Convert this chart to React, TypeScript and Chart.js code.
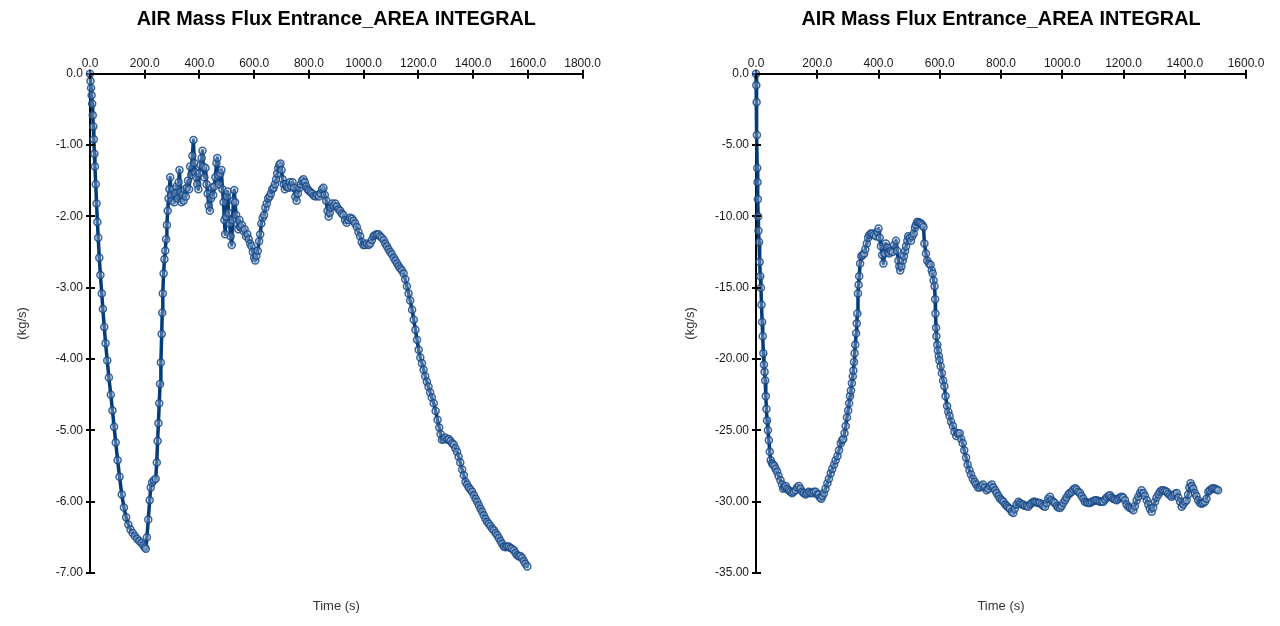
import React, { useEffect, useRef } from "react";
import { Chart, registerables } from "chart.js";

Chart.register(...registerables);

const CHART_TITLE = "AIR Mass Flux Entrance_AREA INTEGRAL";
const X_TITLE = "Time (s)";
const Y_TITLE = "(kg/s)";

// Run 1: sample times (s) and mass flux (kg/s)
const run1Time = [
  0, 2, 4, 6, 8, 10, 12, 14, 16, 18, 21, 24, 27, 30, 34, 38, 43, 47, 52, 57, 63, 69, 76, 82, 88, 94, 101, 108, 116,
  124, 132, 140, 148, 156, 164, 172, 180, 188, 195, 200, 204, 208, 213, 218, 222, 227, 233, 240, 244, 247, 250, 253,
  256, 259, 262, 264, 266, 269, 272, 275, 278, 281, 284, 287, 290, 293, 296, 300, 304, 308, 312, 316, 320, 324, 327,
  330, 334, 338, 342, 346, 350, 354, 358, 362, 366, 370, 374, 378, 381, 384, 388, 392, 396, 400, 404, 408, 411, 414,
  418, 422, 426, 430, 434, 438, 442, 446, 450, 454, 458, 462, 465, 468, 472, 476, 480, 484, 488, 491, 494, 497, 500,
  503, 506, 510, 514, 518, 521, 524, 527, 530, 534, 538, 542, 546, 550, 555, 560, 565, 570, 575, 580, 585, 590, 595,
  600, 604, 608, 613, 618, 622, 626, 631, 636, 641, 646, 651, 656, 661, 666, 671, 676, 680, 684, 688, 692, 696, 700,
  704, 708, 712, 716, 720, 725, 730, 735, 740, 745, 750, 755, 760, 765, 770, 775, 780, 785, 790, 795, 800, 806, 812,
  818, 824, 830, 836, 842, 848, 853, 858, 863, 868, 872, 876, 880, 885, 890, 896, 902, 908, 914, 920, 926, 932, 938,
  944, 950, 957, 963, 969, 975, 981, 987, 993, 999, 1005, 1011, 1018, 1024, 1030, 1036, 1042, 1048, 1054, 1060, 1066,
  1073, 1079, 1085, 1091, 1097, 1103, 1110, 1116, 1122, 1128, 1134, 1140, 1146, 1152, 1158, 1164, 1170, 1177, 1183,
  1189, 1195, 1201, 1207, 1213, 1219, 1225, 1231, 1237, 1243, 1249, 1256, 1263, 1270, 1276, 1281, 1286, 1292, 1298,
  1305, 1311, 1317, 1323, 1329, 1335, 1341, 1347, 1353, 1360, 1366, 1372, 1378, 1384, 1390, 1396, 1403, 1409, 1415,
  1421, 1427, 1433, 1439, 1445, 1451, 1457, 1463, 1470, 1476, 1482, 1488, 1494, 1500, 1506, 1512, 1518, 1524, 1530,
  1536, 1542, 1549, 1555, 1561, 1567, 1573, 1579, 1585, 1591, 1598,
];
const run1Flux = [
  0, -0.1, -0.2, -0.3, -0.42, -0.58, -0.74, -0.92, -1.12, -1.3, -1.55, -1.82, -2.08, -2.3, -2.58, -2.82, -3.08, -3.3,
  -3.55, -3.78, -4.02, -4.26, -4.5, -4.72, -4.95, -5.17, -5.42, -5.65, -5.9, -6.08, -6.22, -6.32, -6.39, -6.44, -6.48,
  -6.52, -6.55, -6.58, -6.61, -6.64, -6.66, -6.5, -6.25, -5.98, -5.8, -5.73, -5.7, -5.68, -5.45, -5.15, -4.9, -4.62,
  -4.35, -4.05, -3.65, -3.35, -3.08, -2.8, -2.6, -2.48, -2.32, -2.12, -1.92, -1.75, -1.62, -1.45, -1.7, -1.78, -1.62,
  -1.8, -1.68, -1.58, -1.75, -1.52, -1.35, -1.65, -1.8, -1.7, -1.78, -1.62, -1.72, -1.6, -1.5, -1.62, -1.3, -1.42,
  -1.15, -0.93, -1.25, -1.38, -1.45, -1.55, -1.62, -1.4, -1.28, -1.18, -1.08, -1.3, -1.45, -1.32, -1.55, -1.68, -1.85,
  -1.92, -1.75, -1.6, -1.7, -1.58, -1.45, -1.25, -1.18, -1.42, -1.55, -1.4, -1.35, -1.62, -1.8, -2.05, -2.25, -2.0,
  -1.72, -1.65, -1.95, -2.1, -2.28, -2.4, -2.05, -1.78, -1.63, -1.8, -1.98, -2.1, -2.18, -2.05, -2.15, -2.12, -2.2,
  -2.18, -2.28, -2.25, -2.32, -2.38, -2.42, -2.5, -2.58, -2.62, -2.55, -2.48, -2.35, -2.25, -2.1, -2.02, -1.98, -1.88,
  -1.82, -1.75, -1.72, -1.68, -1.62, -1.6, -1.55, -1.48, -1.4, -1.32, -1.28, -1.26, -1.35, -1.48, -1.55, -1.62, -1.55,
  -1.58, -1.6, -1.52, -1.58, -1.52, -1.6, -1.72, -1.78, -1.68, -1.6, -1.55, -1.5, -1.48, -1.52, -1.58, -1.62, -1.64,
  -1.66, -1.68, -1.71, -1.72, -1.7, -1.72, -1.68, -1.62, -1.6, -1.7, -1.78, -1.92, -2.0, -1.95, -1.88, -1.82, -1.85,
  -1.82, -1.86, -1.9, -1.92, -1.96, -1.98, -2.05, -2.09, -2.05, -2.02, -2.03, -2.06, -2.1, -2.15, -2.22, -2.28, -2.36,
  -2.4, -2.4, -2.38, -2.4, -2.38, -2.33, -2.28, -2.26, -2.25, -2.25, -2.28, -2.3, -2.33, -2.38, -2.42, -2.46, -2.5,
  -2.53, -2.58, -2.62, -2.66, -2.7, -2.73, -2.76, -2.8, -2.88, -2.98, -3.08, -3.18, -3.31, -3.45, -3.59, -3.73, -3.87,
  -3.98, -4.06, -4.15, -4.24, -4.32, -4.39, -4.47, -4.54, -4.62, -4.73, -4.85, -4.96, -5.05, -5.13, -5.12, -5.1, -5.13,
  -5.12, -5.15, -5.18, -5.2, -5.25, -5.3, -5.37, -5.45, -5.55, -5.63, -5.72, -5.76, -5.8, -5.83, -5.86, -5.91, -5.96,
  -6.0, -6.05, -6.1, -6.14, -6.19, -6.24, -6.28, -6.31, -6.34, -6.38, -6.4, -6.44, -6.47, -6.51, -6.55, -6.59, -6.63,
  -6.64, -6.63, -6.63, -6.65, -6.66, -6.68, -6.72, -6.75, -6.77, -6.76, -6.79, -6.83, -6.87, -6.91,
];

// Run 2: sample times (s) and mass flux (kg/s)
const run2Time = [
  0, 1, 2, 3, 4, 5, 6, 7, 8, 10, 12, 14, 16, 18, 20, 22, 24, 26, 28, 30, 32, 34, 36, 39, 42, 45, 48, 52, 56, 60, 64,
  69, 74, 80, 85, 89, 93, 97, 102, 107, 112, 118, 123, 129, 134, 140, 145, 151, 156, 162, 167, 173, 178, 184, 189, 195,
  200, 205, 209, 213, 217, 222, 227, 233, 238, 244, 249, 255, 260, 266, 271, 277, 281, 285, 289, 293, 297, 301, 304,
  307, 310, 313, 316, 318, 320, 322, 324, 327, 329, 331, 333, 335, 337, 340, 344, 348, 353, 357, 362, 366, 370, 375,
  380, 385, 391, 396, 400, 404, 408, 412, 416, 420, 424, 428, 432, 435, 440, 446, 451, 457, 461, 465, 468, 471, 475,
  479, 483, 487, 490, 494, 497, 501, 506, 510, 515, 519, 522, 526, 530, 534, 539, 543, 547, 550, 555, 559, 565, 570,
  574, 577, 580, 583, 585, 586, 588, 589, 592, 594, 597, 599, 603, 607, 611, 615, 619, 624, 628, 632, 637, 643, 648,
  654, 660, 665, 670, 675, 680, 686, 691, 697, 702, 708, 714, 719, 725, 731, 736, 741, 747, 753, 758, 764, 770, 775,
  781, 786, 792, 797, 803, 808, 814, 819, 824, 829, 835, 840, 845, 851, 857, 862, 867, 873, 878, 884, 889, 895, 900,
  906, 911, 916, 922, 927, 933, 938, 944, 949, 954, 960, 965, 971, 976, 982, 987, 993, 998, 1003, 1009, 1014, 1020,
  1025, 1031, 1036, 1042, 1047, 1052, 1058, 1063, 1069, 1074, 1080, 1085, 1091, 1096, 1102, 1107, 1112, 1118, 1123,
  1129, 1134, 1140, 1145, 1151, 1156, 1161, 1167, 1172, 1178, 1183, 1189, 1194, 1199, 1205, 1210, 1216, 1221, 1227,
  1232, 1237, 1243, 1248, 1254, 1259, 1265, 1270, 1276, 1281, 1286, 1292, 1297, 1303, 1308, 1314, 1319, 1325, 1330,
  1336, 1341, 1346, 1352, 1357, 1363, 1368, 1374, 1379, 1385, 1390, 1395, 1401, 1406, 1411, 1415, 1419, 1423, 1428,
  1433, 1438, 1444, 1450, 1455, 1460, 1466, 1471, 1477, 1482, 1488, 1493, 1499, 1504, 1509,
];
const run2Flux = [
  0, -0.8, -2.0, -4.3, -6.6, -7.6, -8.8, -10.0, -11.0, -11.8, -13.2, -14.2, -15.0, -16.2, -17.4, -18.4, -19.6, -20.4,
  -20.9, -21.5, -22.6, -23.5, -24.3, -25.0, -25.7, -26.5, -27.1, -27.3, -27.4, -27.5, -27.7, -27.9, -28.2, -28.5,
  -28.8, -29.1, -29.0, -28.9, -29.1, -29.2, -29.3, -29.4, -29.3, -29.2, -29.0, -28.9, -29.1, -29.3, -29.4, -29.5,
  -29.4, -29.3, -29.4, -29.4, -29.3, -29.3, -29.5, -29.5, -29.7, -29.8, -29.6, -29.4, -29.1, -28.7, -28.4, -28.0,
  -27.7, -27.4, -27.1, -26.8, -26.4, -25.9, -25.7, -25.6, -25.2, -24.7, -24.1, -23.6, -23.1, -22.6, -22.2, -21.7,
  -21.2, -20.8, -20.2, -19.6, -19.0, -18.2, -17.5, -16.8, -15.4, -14.8, -14.2, -13.3, -12.8, -12.7, -12.6, -12.3,
  -11.9, -11.5, -11.3, -11.2, -11.2, -11.3, -11.4, -11.1, -10.85, -11.5, -12.1, -12.7, -13.3, -12.6, -11.9, -12.2,
  -12.5, -12.6, -12.4, -12.5, -12.0, -11.7, -12.4, -13.1, -13.5, -13.8, -13.5, -13.1, -12.8, -12.4, -12.1, -11.7,
  -11.4, -11.5, -11.7, -11.4, -11.2, -10.8, -10.6, -10.4, -10.4, -10.45, -10.5, -10.6, -10.75, -11.9, -12.6, -13.1,
  -13.3, -13.4, -13.8, -14.0, -14.5, -14.9, -15.8, -16.8, -17.8, -18.4, -19.0, -19.4, -19.8, -20.1, -20.5, -21.0,
  -21.5, -21.9, -22.6, -23.3, -23.7, -24.0, -24.4, -24.7, -25.1, -25.4, -25.2, -25.2, -25.6, -25.9, -26.4, -26.9,
  -27.4, -27.8, -28.1, -28.4, -28.6, -28.8, -29.0, -29.0, -28.9, -28.8, -29.0, -29.2, -29.1, -28.9, -28.8, -29.0,
  -29.2, -29.4, -29.6, -29.8, -29.9, -30.0, -30.2, -30.3, -30.4, -30.5, -30.7, -30.8, -30.5, -30.2, -30.0, -30.1,
  -30.2, -30.2, -30.3, -30.3, -30.35, -30.2, -30.1, -30.0, -30.0, -30.05, -30.1, -30.1, -30.2, -30.3, -30.35, -30.1,
  -29.8, -29.65, -29.9, -30.0, -30.1, -30.3, -30.4, -30.45, -30.3, -30.1, -29.9, -29.7, -29.5, -29.4, -29.3, -29.15,
  -29.05, -29.15, -29.3, -29.4, -29.6, -29.8, -30.0, -30.05, -30.1, -30.1, -30.0, -29.95, -29.9, -29.9, -29.95, -30.0,
  -30.0, -30.0, -29.85, -29.7, -29.6, -29.55, -29.7, -29.8, -29.85, -29.9, -29.8, -29.7, -29.65, -29.7, -29.9, -30.2,
  -30.35, -30.45, -30.5, -30.6, -30.3, -29.9, -29.65, -29.4, -29.2, -29.4, -29.6, -29.9, -30.2, -30.5, -30.7, -30.4,
  -30.0, -29.7, -29.5, -29.3, -29.2, -29.2, -29.25, -29.3, -29.45, -29.55, -29.65, -29.55, -29.45, -29.4, -29.7, -30.0,
  -30.35, -30.2, -30.0, -29.9, -29.5, -29.0, -28.7, -28.9, -29.1, -29.4, -29.6, -29.9, -30.1, -30.15, -30.1, -30.0,
  -29.8, -29.3, -29.2, -29.1, -29.06, -29.1, -29.15, -29.2,
];

// Axis ranges and tick steps for each panel
const run1Axis = { xMax: 1800, xStep: 200, yMin: -7, yStep: 1 };
const run2Axis = { xMax: 1600, xStep: 200, yMin: -35, yStep: 5 };

const FONT = "'Liberation Sans', Arial, Helvetica, sans-serif";
const LINE_COLOR = "#043c79";

type PanelLayout = {
  yAxisWidth: number;
  yTitleOffset: number;
  padRight: number;
};

// Draws the short tick marks that poke into the plot area from both axes
const innerTicks = {
  id: "innerTicks",
  afterDraw(chart: any) {
    const { ctx, chartArea, scales } = chart;
    ctx.save();
    ctx.strokeStyle = "#000";
    ctx.lineWidth = 2;
    ctx.beginPath();
    for (const t of scales.x.ticks) {
      const px = Math.round(scales.x.getPixelForValue(t.value));
      ctx.moveTo(px, chartArea.top);
      ctx.lineTo(px, chartArea.top + 5);
    }
    for (const t of scales.y.ticks) {
      const py = Math.round(scales.y.getPixelForValue(t.value));
      ctx.moveTo(chartArea.left, py);
      ctx.lineTo(chartArea.left + 5, py);
    }
    ctx.stroke();
    ctx.restore();
  },
};

function FluxPanel(props: {
  times: number[];
  flux: number[];
  axis: { xMax: number; xStep: number; yMin: number; yStep: number };
  layout: PanelLayout;
  left: number;
}) {
  const ref = useRef<HTMLCanvasElement | null>(null);

  useEffect(() => {
    const canvas = ref.current;
    if (!canvas) return;
    const { times, flux, axis, layout } = props;
    const points = times.map((t, i) => ({ x: t, y: flux[i] }));

    const chart = new Chart(canvas, {
      type: "line",
      data: {
        datasets: [
          {
            data: points,
            borderColor: LINE_COLOR,
            borderWidth: 3.5,
            borderJoinStyle: "round",
            borderCapStyle: "round",
            tension: 0,
            pointRadius: 3.5,
            pointBorderWidth: 1.5,
            pointBorderColor: "rgba(22, 72, 138, 0.85)",
            pointBackgroundColor: "rgba(215, 228, 243, 0.3)",
            clip: false,
          } as any,
        ],
      },
      options: {
        responsive: false,
        animation: false,
        layout: { padding: { left: 0, right: layout.padRight, top: 0, bottom: 0 } },
        plugins: {
          legend: { display: false },
          tooltip: { enabled: false },
          title: {
            display: true,
            text: CHART_TITLE,
            fullSize: false,
            color: "#000",
            font: { family: FONT, size: 19.8, weight: "bold" },
            padding: { top: 8, bottom: 0 },
          },
          subtitle: {
            display: true,
            text: X_TITLE,
            position: "bottom",
            fullSize: false,
            color: "#333",
            font: { family: FONT, size: 13, weight: "normal" },
            padding: { top: 26, bottom: 11.4 },
          },
        },
        scales: {
          x: {
            type: "linear",
            position: "top",
            min: 0,
            max: axis.xMax,
            ticks: {
              stepSize: axis.xStep,
              autoSkip: false,
              maxRotation: 0,
              padding: -1,
              color: "#1a1a1a",
              font: { family: FONT, size: 12 },
              callback: (v: any) => Number(v).toFixed(1),
            },
            grid: { drawOnChartArea: false, drawTicks: true, tickLength: 4, color: "#000", lineWidth: 2 },
            border: { display: true, color: "#000", width: 2 },
            afterFit: (s: any) => {
              s.height = 42;
            },
          },
          y: {
            type: "linear",
            min: axis.yMin,
            max: 0,
            ticks: {
              stepSize: axis.yStep,
              padding: 3,
              color: "#1a1a1a",
              font: { family: FONT, size: 12 },
              callback: (v: any) => (Number(v) === 0 ? "0.0" : Number(v).toFixed(2)),
            },
            grid: { drawOnChartArea: false, drawTicks: true, tickLength: 4, color: "#000", lineWidth: 2 },
            border: { display: true, color: "#000", width: 2 },
            title: {
              display: true,
              text: Y_TITLE,
              color: "#333",
              font: { family: FONT, size: 13 },
              padding: { top: layout.yTitleOffset, bottom: 0 },
            },
            afterFit: (s: any) => {
              s.width = layout.yAxisWidth;
            },
          },
        },
      } as any,
      plugins: [innerTicks],
    });

    return () => chart.destroy();
  }, []);

  return (
    <canvas
      ref={ref}
      width={640}
      height={626}
      style={{ position: "absolute", left: props.left, top: 0, width: 640, height: 626 }}
    />
  );
}

export default function App() {
  return (
    <div style={{ position: "absolute", left: 0, top: 0, width: 1280, height: 626, background: "#fff" }}>
      <FluxPanel
        times={run1Time}
        flux={run1Flux}
        axis={run1Axis}
        layout={{ yAxisWidth: 90, yTitleOffset: 15, padRight: 57.4 }}
        left={0}
      />
      <FluxPanel
        times={run2Time}
        flux={run2Flux}
        axis={run2Axis}
        layout={{ yAxisWidth: 116, yTitleOffset: 42.5, padRight: 34 }}
        left={640}
      />
    </div>
  );
}
